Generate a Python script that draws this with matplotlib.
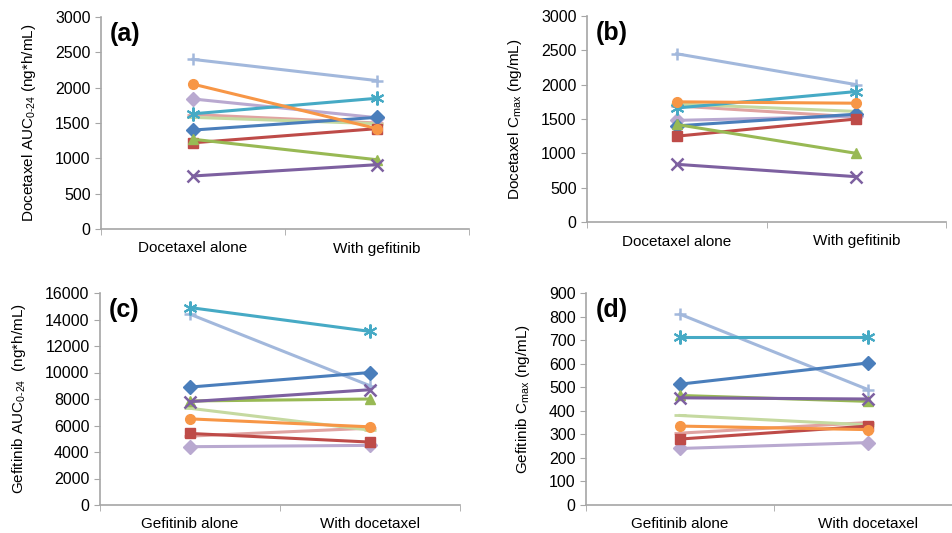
import matplotlib.pyplot as plt

plt.rcParams['font.family'] = ['Liberation Sans', 'DejaVu Sans']
plt.rcParams['mathtext.fontset'] = 'custom'
plt.rcParams['mathtext.rm'] = 'Liberation Sans'
plt.rcParams['mathtext.it'] = 'Liberation Sans'

# series order: blue, red, green, purple, teal, orange, lt blue, lt red, lt green, lt purple
colors = ['#4A7EBB', '#BE4B48', '#98B954', '#7D60A0', '#46AAC5', '#F79646',
          '#A2B8DC', '#E0A3A1', '#C5D9A0', '#B9A9D0']
markers = ['D', 's', '^', 'x', (6, 2, 0), 'o', '+', '_', '_', 'D']

doc_labels = ['Docetaxel alone', 'With gefitinib']
gef_labels = ['Gefitinib alone', 'With docetaxel']

# (a) docetaxel AUC0-24
a_alone = [1400, 1220, 1270, 750, 1630, 2050, 2400, 1620, 1580, 1840]
a_with = [1580, 1420, 980, 910, 1850, 1420, 2100, 1500, 1490, 1575]
# (b) docetaxel Cmax
b_alone = [1400, 1250, 1420, 840, 1660, 1750, 2450, 1690, 1720, 1480]
b_with = [1570, 1500, 1000, 660, 1900, 1730, 2000, 1530, 1610, 1540]
# (c) gefitinib AUC0-24
c_alone = [8900, 5400, 7850, 7800, 14900, 6500, 14400, 5200, 7300, 4400]
c_with = [10000, 4750, 8000, 8700, 13100, 5900, 9000, 5800, 5650, 4500]
# (d) gefitinib Cmax
d_alone = [513, 280, 465, 455, 715, 335, 810, 305, 380, 240]
d_with = [603, 335, 440, 450, 715, 320, 490, 350, 340, 265]

W, H = 952, 533


def box(l, r, t, b):
    return [l / W, 1 - b / H, (r - l) / W, (b - t) / H]


def panel(rect, alone, withv, cats, ymax, ystep, ylabel, tag):
    ax = fig.add_axes(box(*rect))
    for i in range(len(alone)):
        m = markers[i]
        ms = 7
        mew = 1
        if m in ('x', '+'):
            ms, mew = 9, 1.8
        if m == '_':
            ms, mew = 8, 2
        if isinstance(m, tuple):
            ms, mew = 10, 1.5
        ax.plot([0, 1], [alone[i], withv[i]], color=colors[i], lw=2.2,
                marker=m, ms=ms, mew=mew, zorder=3 if i < 6 else 2)
    ax.set_xlim(-0.5, 1.5)
    ax.set_ylim(0, ymax)
    ax.set_yticks(range(0, ymax + 1, ystep))
    ax.set_xticks([0, 1])
    ax.set_xticklabels(cats, fontsize=11)
    ax.set_xticks([-0.5, 0.5, 1.5], minor=True)
    ax.tick_params(axis='x', which='major', length=0, pad=9)
    ax.tick_params(axis='x', which='minor', length=4, color='#A6A6A6', direction='out')
    ax.tick_params(axis='y', length=4, color='#A6A6A6', labelsize=11.5)
    for s in ['top', 'right']:
        ax.spines[s].set_visible(False)
    for s in ['left', 'bottom']:
        ax.spines[s].set_color('#A6A6A6')
        ax.spines[s].set_linewidth(1.2)
    ax.set_ylabel(ylabel, fontsize=11, labelpad=12)
    ax.text(0.025, 0.975, tag, transform=ax.transAxes, fontsize=18,
            fontweight='bold', va='top', ha='left')
    return ax


fig = plt.figure(figsize=(W / 100, H / 100), dpi=100)

panel((101, 469, 17, 229), a_alone, a_with, doc_labels, 3000, 500,
      r'Docetaxel AUC$_{0\text{-}24}$ (ng*h/mL)', '(a)')
panel((587, 946, 16, 222), b_alone, b_with, doc_labels, 3000, 500,
      r'Docetaxel C$_{\mathrm{max}}$ (ng/mL)', '(b)')
panel((100, 460, 293, 505), c_alone, c_with, gef_labels, 16000, 2000,
      r'Gefitinib AUC$_{0\text{-}24}$  (ng*h/mL)', '(c)')
panel((586, 962, 293, 505), d_alone, d_with, gef_labels, 900, 100,
      r'Gefitinib C$_{\mathrm{max}}$ (ng/mL)', '(d)')

fig.savefig('out.png', dpi=100)
